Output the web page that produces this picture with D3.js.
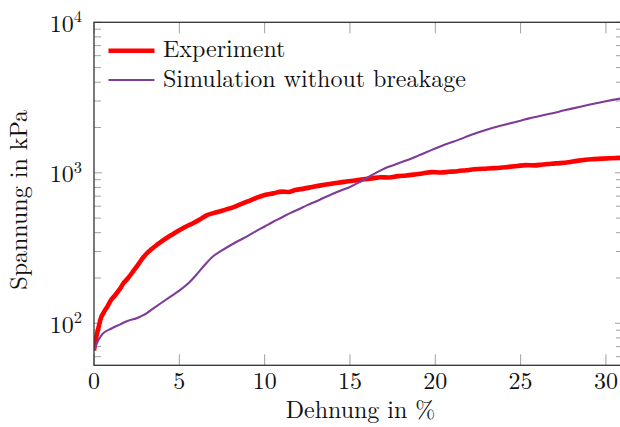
<!DOCTYPE html>
<html>
<head>
<meta charset="utf-8">
<script src="https://cdn.jsdelivr.net/npm/d3@7/dist/d3.min.js"></script>
<style>
html,body{margin:0;padding:0;background:#fff;}
svg{display:block;}
</style>
</head>
<body>
<svg id="chart" width="620" height="427"></svg>
<script>
// ---- data ----
const expX = [0,0.1,0.25,0.4,0.55,0.8,1.0,1.2,1.5,1.75,2.0,2.3,2.5,2.8,3.1,3.4,3.7,4.0,4.3,4.6,5.0,5.4,5.8,6.2,6.6,7.0,7.5,8.0,8.5,9.0,9.5,10.0,10.5,11.0,11.4,11.8,12.3,12.8,13.3,13.8,14.3,14.8,15.3,15.8,16.3,16.8,17.3,17.8,18.3,18.8,19.3,19.8,20.3,20.8,21.3,21.8,22.3,22.8,23.3,23.8,24.3,24.8,25.3,25.8,26.3,26.8,27.3,27.8,28.3,28.8,29.3,29.8,30.3,30.8,31];
const expY = [66,78,92,108,117,130,143,152,168,186,200,222,238,266,292,313,333,353,372,390,415,440,462,490,522,540,560,582,612,645,680,712,730,750,745,768,785,805,825,843,860,875,890,905,918,935,930,950,960,975,992,1010,1005,1015,1025,1040,1055,1065,1072,1080,1095,1110,1125,1120,1135,1150,1160,1175,1200,1220,1232,1242,1250,1256,1258];
const simX = [0,0.2,0.5,1.0,1.5,2.0,2.5,2.8,3.1,3.5,4.0,4.5,5.0,5.5,6.0,6.5,7.0,7.5,8.0,8.5,9.0,9.5,10.0,10.5,11.0,11.5,12.0,12.5,13.0,13.5,14.0,14.5,15.0,15.5,16.0,16.5,17.0,17.5,18.0,18.5,19.0,19.5,20.0,20.5,21.0,21.5,22.0,22.5,23.0,23.5,24.0,24.5,25.0,25.5,26.0,26.5,27.0,27.5,28.0,28.5,29.0,29.5,30.0,30.5,31];
const simY = [66,75,85,92,98,104,108,112,117,126,138,151,165,183,210,245,280,305,330,355,380,410,440,473,505,540,572,610,645,685,725,765,805,860,925,995,1065,1120,1175,1230,1300,1375,1450,1530,1600,1680,1770,1850,1930,2010,2080,2150,2220,2300,2370,2440,2510,2590,2670,2750,2830,2910,2990,3065,3140];
const xTicks = [0,5,10,15,20,25,30];
const yExponents = [2,3,4];
const seriesNames = ["Experiment","Simulation without breakage"];
const seriesColors = ["#ff0000","#7d3c98"];

// ---- layout ----
const FONT = "'Latin Modern Roman', 'Liberation Serif', serif";
const FS = 24;
const L = 94, R = 623, T = 22.3, B = 365.3;
const svg = d3.select("#chart");
const x = d3.scaleLinear().domain([0,31]).range([L,R]);
const y = d3.scaleLog().domain([Math.pow(10,1.721),1e4]).range([B,T]);

svg.append("defs").append("clipPath").attr("id","clip")
  .append("rect").attr("x",L).attr("y",T).attr("width",R-L).attr("height",B-T);

const yMinor = [];
[10,100,1000].forEach(d => { for (let k=2;k<=9;k++){ const v=d*k; if (v>=y.domain()[0] && v<=1e4) yMinor.push(v);} });
const tickCol = "#a0a0a0";
const tg = svg.append("g").attr("stroke",tickCol).attr("stroke-width",1);
yMinor.forEach(v => {
  tg.append("line").attr("x1",L).attr("x2",L+7).attr("y1",y(v)).attr("y2",y(v));
  tg.append("line").attr("x1",R).attr("x2",R-7).attr("y1",y(v)).attr("y2",y(v));
});
yExponents.forEach(e => {
  const v = Math.pow(10,e);
  tg.append("line").attr("x1",L).attr("x2",L+8).attr("y1",y(v)).attr("y2",y(v));
  tg.append("line").attr("x1",R).attr("x2",R-8).attr("y1",y(v)).attr("y2",y(v));
});
xTicks.forEach(v => {
  tg.append("line").attr("x1",x(v)).attr("x2",x(v)).attr("y1",B).attr("y2",B-11);
  tg.append("line").attr("x1",x(v)).attr("x2",x(v)).attr("y1",T).attr("y2",T+11);
});

const lineGen = d3.line().x(d=>x(d[0])).y(d=>y(d[1])).curve(d3.curveMonotoneX);
const simData = simX.map((v,i)=>[v,simY[i]]);
const expData = expX.map((v,i)=>[v,expY[i]]);
const lg = svg.append("g").attr("clip-path","url(#clip)");
lg.append("path").attr("d",lineGen(expData)).attr("fill","none").attr("stroke",seriesColors[0]).attr("stroke-width",4.6).attr("stroke-linejoin","round");
lg.append("path").attr("d",lineGen(simData)).attr("fill","none").attr("stroke",seriesColors[1]).attr("stroke-width",2.1).attr("stroke-linejoin","round");

svg.append("rect").attr("x",L).attr("y",T).attr("width",R-L).attr("height",B-T)
  .attr("fill","none").attr("stroke","#333").attr("stroke-width",1.3);

const txt = (sel) => sel.style("font-family",FONT).attr("fill","#111");

xTicks.forEach(v => {
  txt(svg.append("text")).attr("x",x(v)).attr("y",389).attr("text-anchor","middle").attr("font-size",FS).text(v);
});
yExponents.forEach(e => {
  const t = txt(svg.append("text")).attr("x",82).attr("y",y(Math.pow(10,e))+9.5).attr("text-anchor","end").attr("font-size",FS);
  t.append("tspan").text("10");
  t.append("tspan").attr("font-size",16.5).attr("dy",-9.5).text(e);
});

txt(svg.append("text")).attr("x",(L+R)/2+2).attr("y",418).attr("text-anchor","middle").attr("font-size",FS).text("Dehnung in %");
txt(svg.append("text")).attr("transform",`translate(27,${(T+B)/2+6}) rotate(-90)`).attr("text-anchor","middle").attr("font-size",FS).text("Spannung in kPa");

const legY = [50.7,80];
const legW = [4.6,2.1];
seriesNames.forEach((n,i) => {
  svg.append("line").attr("x1",108.5).attr("x2",154.5).attr("y1",legY[i]).attr("y2",legY[i]).attr("stroke",seriesColors[i]).attr("stroke-width",legW[i]);
  txt(svg.append("text")).attr("x",163).attr("y",legY[i]+6.5).attr("font-size",FS).text(n);
});
</script>
</body>
</html>
